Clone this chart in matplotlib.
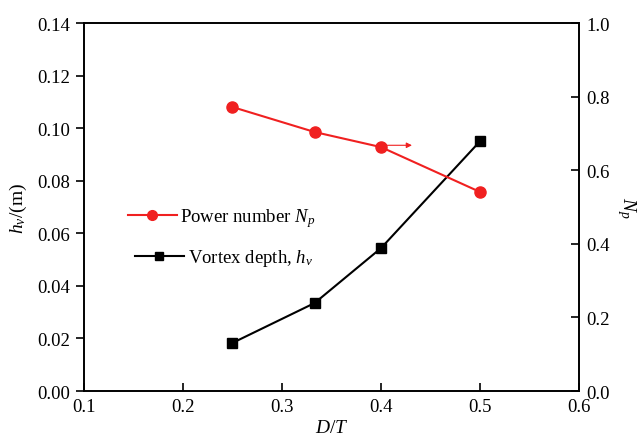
import matplotlib.pyplot as plt
from matplotlib.lines import Line2D

plt.rcParams["font.family"] = "Liberation Serif"
plt.rcParams["mathtext.fontset"] = "custom"
plt.rcParams["mathtext.rm"] = "Liberation Serif"
plt.rcParams["mathtext.it"] = "Liberation Serif:italic"

d_over_t = [0.25, 0.333, 0.4, 0.5]
vortex_depth = [0.0183, 0.0335, 0.0544, 0.0951]
power_number = [0.772, 0.704, 0.663, 0.541]

RED = "#F02020"

fig = plt.figure(figsize=(6.4, 4.39), dpi=100)
ax = fig.add_axes([0.131, 0.107, 0.774, 0.838])
ax2 = ax.twinx()

ax.plot(d_over_t, vortex_depth, color="black", lw=1.5, marker="s", ms=7)
ax2.plot(d_over_t, power_number, color=RED, lw=1.5, marker="o", ms=8)

ax2.annotate("", xy=(0.434, power_number[2] + 0.005), xytext=(0.4, power_number[2] + 0.005),
             arrowprops=dict(arrowstyle="-|>", color=RED, lw=0.8, mutation_scale=8))

ax.set_xlim(0.1, 0.6)
ax.set_ylim(0, 0.14)
ax2.set_ylim(0, 1.0)
ax.set_xticks([0.1, 0.2, 0.3, 0.4, 0.5, 0.6])
ax.set_yticks([0.00, 0.02, 0.04, 0.06, 0.08, 0.10, 0.12, 0.14])
ax2.set_yticks([0.0, 0.2, 0.4, 0.6, 0.8, 1.0])
ax.set_xticklabels(["0.1", "0.2", "0.3", "0.4", "0.5", "0.6"])
ax.set_yticklabels([f"{v:.2f}" for v in ax.get_yticks()])
ax2.set_yticklabels([f"{v:.1f}" for v in ax2.get_yticks()])

ax.tick_params(axis="x", direction="in", length=6, width=1.2, labelsize=13.5, pad=5)
ax.tick_params(axis="y", direction="out", length=6, width=1.2, labelsize=13.5, pad=4)
ax2.tick_params(axis="y", direction="in", length=6, width=1.2, labelsize=13.5, pad=5)
for a in (ax, ax2):
    for s in a.spines.values():
        s.set_linewidth(1.2)

ax.set_xlabel(r"$D/T$", fontsize=14, labelpad=3)
ax.set_ylabel(r"$h_v$/(m)", fontsize=14, labelpad=6)
ax2.set_ylabel(r"$N_p$", fontsize=14, rotation=270, labelpad=20)

leg1 = ax2.legend([Line2D([], [], color=RED, lw=1.5, marker="o", ms=7)],
                  [r"Power number $N_p$"], loc="center left",
                  bbox_to_anchor=(128 / 640, 1 - 219 / 439), bbox_transform=fig.transFigure,
                  frameon=False, fontsize=13.5, handlelength=2.6, handletextpad=0.2,
                  borderpad=0, borderaxespad=0)
ax2.add_artist(leg1)
ax2.legend([Line2D([], [], color="black", lw=1.5, marker="s", ms=6)],
           [r"Vortex depth, $h_v$"], loc="center left",
           bbox_to_anchor=(135 / 640, 1 - 259 / 439), bbox_transform=fig.transFigure,
           frameon=False, fontsize=13.5, handlelength=2.6, handletextpad=0.2,
           borderpad=0, borderaxespad=0)

fig.savefig("out.png", dpi=100)
